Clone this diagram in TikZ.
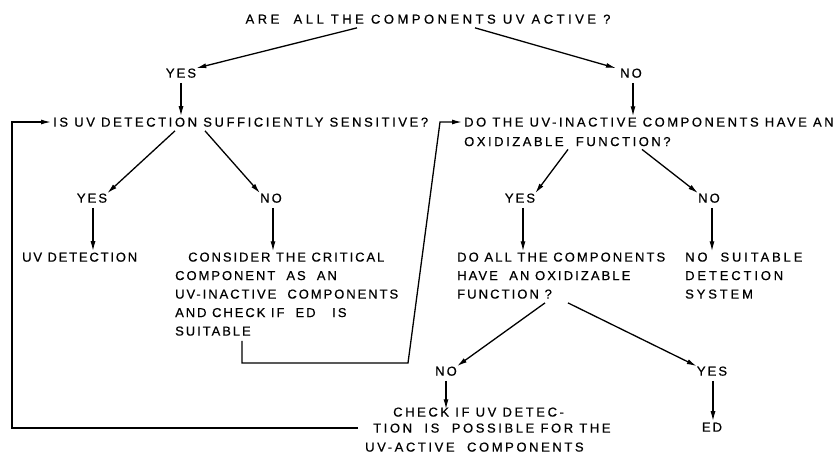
\documentclass[tikz,border=0pt]{standalone}
\usepackage{fontspec}
\setmainfont{Liberation Sans}[LetterSpace=16, FakeBold=0.6]
\usetikzlibrary{arrows.meta}
% letter-spaced lettering: line pitch, letter spacing
\newcommand{\lettering}[2]{\fontsize{13}{#1}\selectfont\addfontfeature{LetterSpace=#2}}
\begin{document}
\begin{tikzpicture}[x=1pt,y=-1pt,
  lbl/.style={inner sep=0pt, font={\lettering{18.5}{16}}, text height=9.3pt, text depth=0pt},
  para/.style={inner sep=0pt, align=left, anchor=north west},
  flow/.style={line width=1.3pt, -{Latex[length=10pt,width=5pt]}}]
\useasboundingbox (0,0) rectangle (835,453);

% questions and answers
\node[lbl, font={\lettering{18.5}{27}}] (q1) at (428,19) {ARE\ \ ALL THE COMPONENTS UV ACTIVE ?};
\node[lbl] (y1) at (181,73) {YES};
\node[lbl] (n1) at (631,73) {NO};
\node[lbl, anchor=west, font={\lettering{18.5}{20}}] (q2) at (53,122) {IS UV DETECTION SUFFICIENTLY SENSITIVE?};
\node[para, font={\lettering{19.5}{19.5}}] (q3) at (464,117.3) {DO THE UV-INACTIVE COMPONENTS HAVE AN\\OXIDIZABLE\ \ FUNCTION?};
\node[lbl] (y2) at (92,198) {YES};
\node[lbl] (n2) at (271,198) {NO};
\node[lbl] (y3) at (520,198) {YES};
\node[lbl] (n3) at (709,198) {NO};
\node[lbl, anchor=west, font={\lettering{18.5}{14}}] (uvd) at (22,257) {UV DETECTION};
\node[para, font={\lettering{18.5}{15}}] (cons) at (175,252.3) {\hspace*{13pt}CONSIDER THE CRITICAL\\COMPONENT\ \ AS\ \ AN\\UV-INACTIVE\ \ COMPONENTS\\AND CHECK IF\ \ ED\ \ \ IS\\SUITABLE};
\node[para, font={\lettering{18.5}{16}}] (q4) at (457,252.3) {DO ALL THE COMPONENTS\\HAVE\ \ AN OXIDIZABLE\\FUNCTION ?};
\node[para, font={\lettering{18.5}{22}}] (nos) at (685,252.3) {NO\ \ SUITABLE\\DETECTION\\SYSTEM};
\node[lbl] (n4) at (446,371) {NO};
\node[lbl] (y4) at (712,371) {YES};
\node[para, font={\lettering{16}{20}}] (chk) at (365,407.3)
  {\hspace*{28pt}CHECK IF UV DETEC-\\\hspace*{8pt}TION\ \ IS\ \ POSSIBLE FOR THE\\[3pt]UV-ACTIVE\ \ COMPONENTS};
\node[lbl] (ed) at (712,427) {ED};

% bends of the two feedback lines
\coordinate (loopL) at (12,428);
\coordinate (bendA) at (242,363);
\coordinate (bendB) at (408,363);
\coordinate (bendC) at (440,122);

% connectors
\draw[flow] ([xshift=-71pt,yshift=-4pt]q1.south) -- (y1.north east);
\draw[flow] ([xshift=47pt,yshift=-4pt]q1.south) -- ([xshift=-4pt]n1.north west);
\draw[flow] ([yshift=-5pt]y1.south) -- ([yshift=1pt]y1.south |- q2.north);
\draw[flow] ([xshift=2pt,yshift=-5pt]n1.south) -- ([xshift=2pt,yshift=1pt]n1.south |- q3.north);
\draw[flow] ([xshift=-7pt]chk.west |- loopL) -- (loopL) |- ([xshift=-2pt]q2.west);
\draw[flow] ([xshift=67pt,yshift=-5pt]cons.south west) -- (bendA) -- (bendB) -- (bendC) -- ([xshift=-2pt]bendC -| q3.west);
\draw[flow] ([xshift=122pt,yshift=-4pt]q2.south west) -- (y2.north east);
\draw[flow] ([xshift=152pt,yshift=-4pt]q2.south west) -- (n2.north west);
\draw[flow] ([xshift=1pt,yshift=-5pt]y2.south) -- ([xshift=1pt,yshift=1pt]y2.south |- uvd.north);
\draw[flow] ([xshift=2pt,yshift=-5pt]n2.south) -- ([xshift=2pt,yshift=1pt]n2.south |- cons.north);
\draw[flow] ([xshift=104pt,yshift=-3pt]q3.south west) -- (y3.north east);
\draw[flow] ([xshift=178pt,yshift=-3pt]q3.south west) -- (n3.north west);
\draw[flow] ([xshift=3pt,yshift=-5pt]y3.south) -- ([xshift=3pt,yshift=1pt]y3.south |- q4.north);
\draw[flow] ([xshift=3pt,yshift=-5pt]n3.south) -- ([xshift=3pt,yshift=1pt]n3.south |- nos.north);
\draw[flow] ([xshift=88pt,yshift=-4pt]q4.south west) -- (n4.north east);
\draw[flow] ([xshift=111pt,yshift=-4pt]q4.south west) -- (y4.north west);
\draw[flow] ([yshift=-5pt]n4.south) -- ([yshift=-2pt]n4.south |- chk.north);
\draw[flow] ([xshift=1pt,yshift=-5pt]y4.south) -- ([xshift=1pt,yshift=1pt]y4.south |- ed.north);
\end{tikzpicture}
\end{document}
